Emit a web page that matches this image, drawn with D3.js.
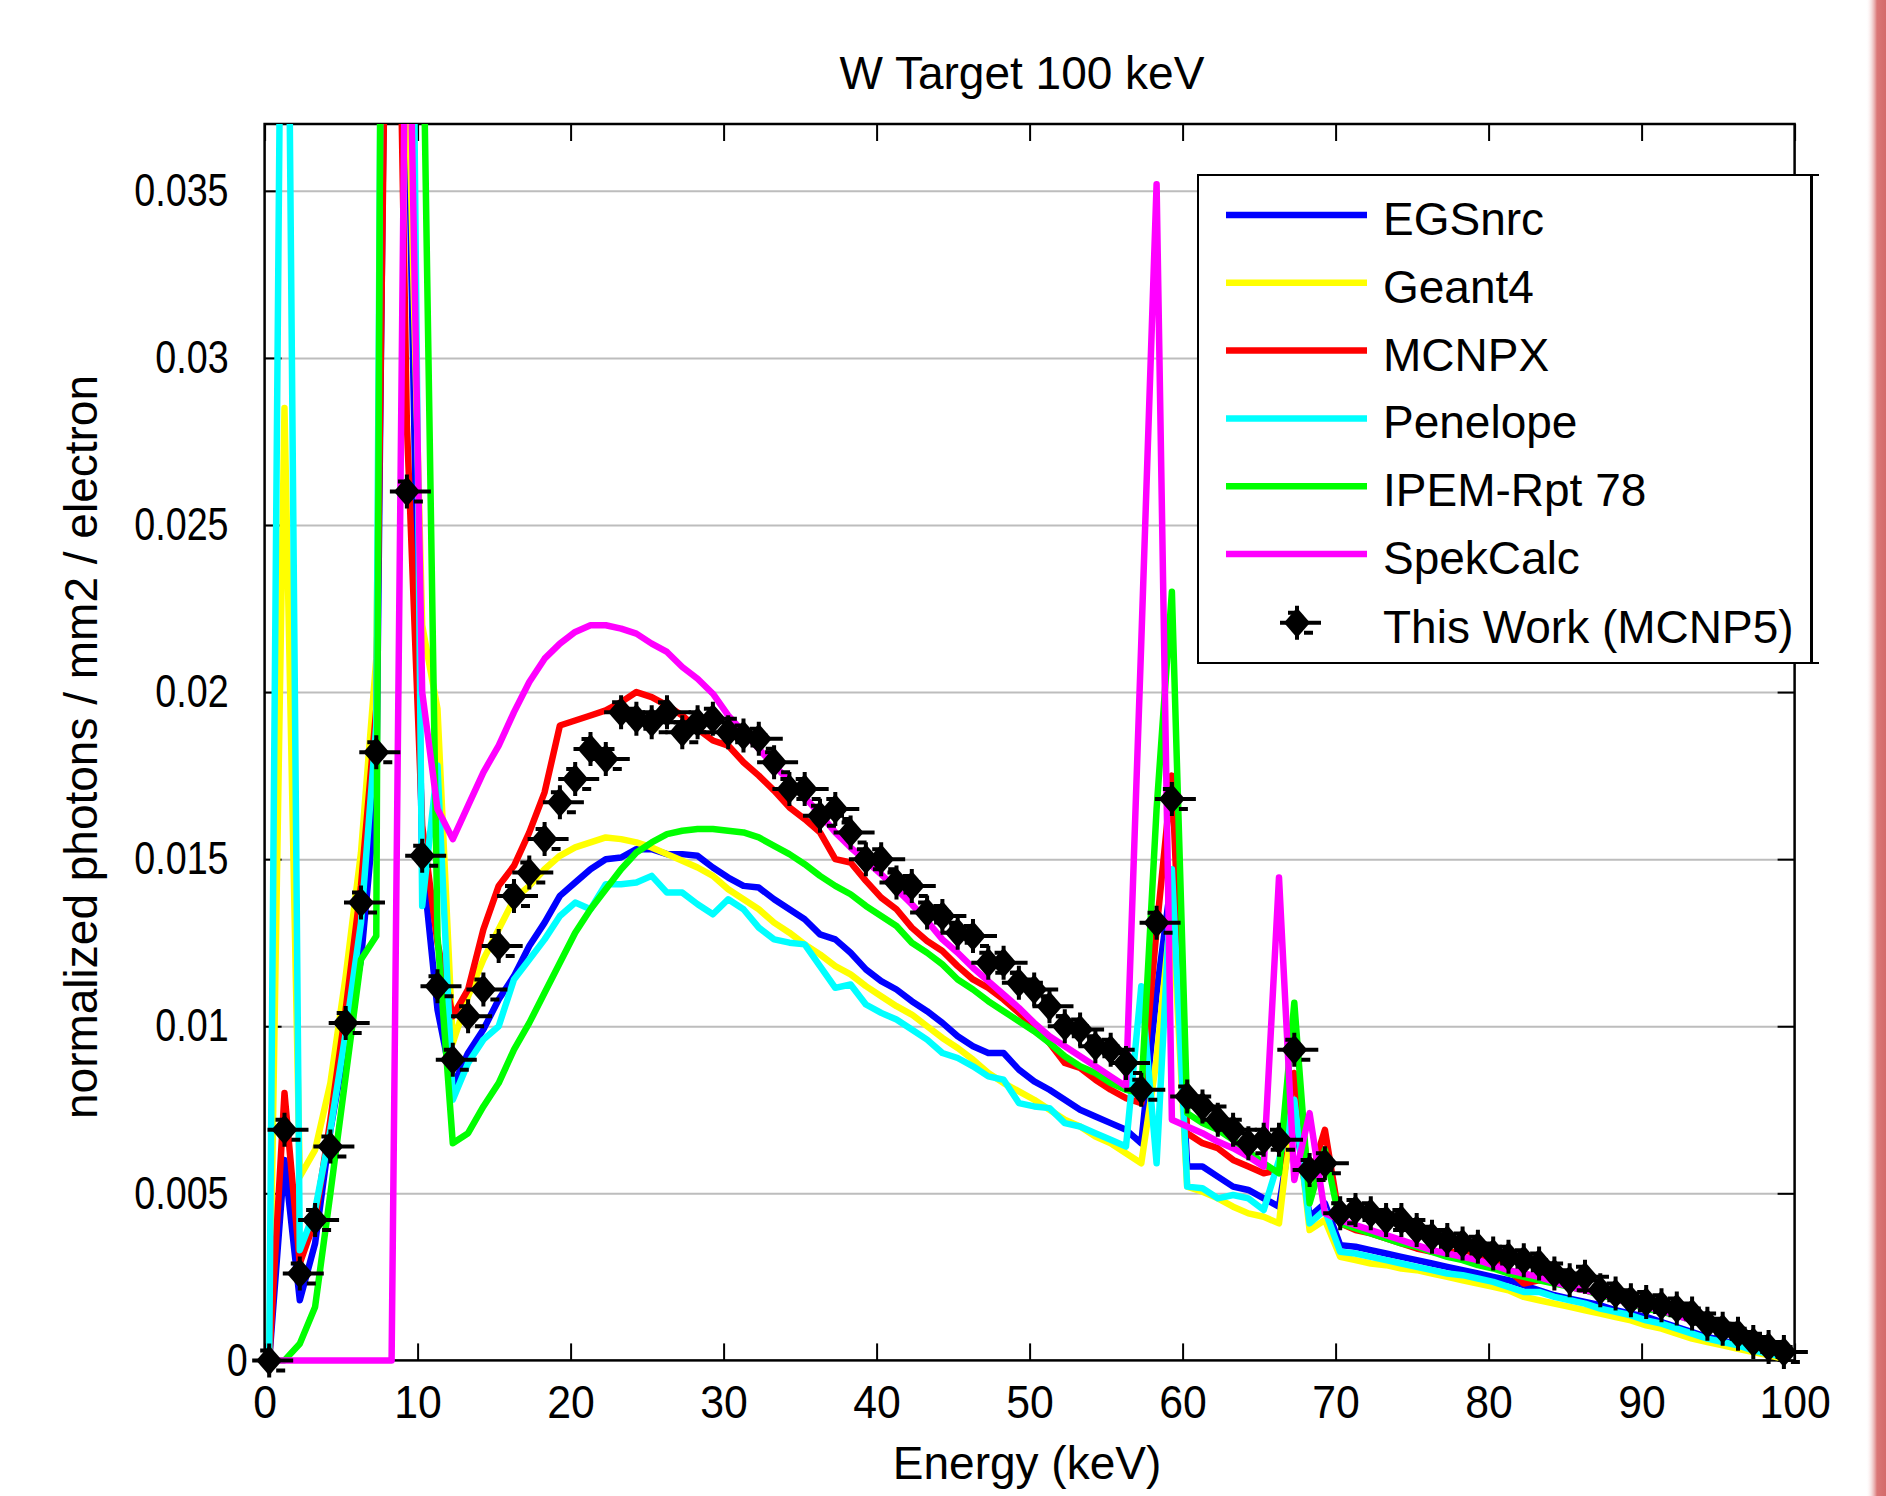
<!DOCTYPE html>
<html>
<head>
<meta charset="utf-8">
<script src="https://cdn.jsdelivr.net/npm/d3@7"></script>
<style>
  body { margin: 0; background: #fff; }
  text { font-family: "Liberation Sans", Arial, sans-serif; fill: #000; }
</style>
</head>
<body>
<div id="chart"></div>
<script>
// photon energy of each bin (keV)
const energies = [
  0.3, 1.3, 2.3, 3.3, 4.3, 5.3, 6.3, 7.3, 8.3, 9.3,
  10.3, 11.3, 12.3, 13.3, 14.3, 15.3, 16.3, 17.3, 18.3, 19.3,
  20.3, 21.3, 22.3, 23.3, 24.3, 25.3, 26.3, 27.3, 28.3, 29.3,
  30.3, 31.3, 32.3, 33.3, 34.3, 35.3, 36.3, 37.3, 38.3, 39.3,
  40.3, 41.3, 42.3, 43.3, 44.3, 45.3, 46.3, 47.3, 48.3, 49.3,
  50.3, 51.3, 52.3, 53.3, 54.3, 55.3, 56.3, 57.3, 58.3, 59.3,
  60.3, 61.3, 62.3, 63.3, 64.3, 65.3, 66.3, 67.3, 68.3, 69.3,
  70.3, 71.3, 72.3, 73.3, 74.3, 75.3, 76.3, 77.3, 78.3, 79.3,
  80.3, 81.3, 82.3, 83.3, 84.3, 85.3, 86.3, 87.3, 88.3, 89.3,
  90.3, 91.3, 92.3, 93.3, 94.3, 95.3, 96.3, 97.3, 98.3, 99.3]

// values above 0.037 are off the top of the plot, guessed
const egsnrc = [
  0, 0.0060, 0.0018, 0.0035, 0.0069, 0.0095, 0.0120, 0.0170, 0.0600, 0.0400,
  0.0150, 0.0105, 0.0082, 0.0092, 0.0099, 0.0108, 0.0115, 0.0124, 0.0131, 0.0139,
  0.0143, 0.0147, 0.0150, 0.01505, 0.0153, 0.0153, 0.01515, 0.01515, 0.0151, 0.01475,
  0.01445, 0.0142, 0.01415, 0.0138, 0.0135, 0.0132, 0.01275, 0.0126, 0.0122, 0.0117,
  0.01135, 0.0111, 0.01075, 0.01045, 0.0101, 0.0097, 0.0094, 0.0092, 0.0092, 0.0087,
  0.00835, 0.0081, 0.0078, 0.0075, 0.0073, 0.0071, 0.0069, 0.0065, 0.0110, 0.0145,
  0.0058, 0.0058, 0.0055, 0.0052, 0.0051, 0.00485, 0.0046, 0.0075, 0.0043, 0.0047,
  0.00345, 0.0034, 0.0033, 0.0032, 0.0031, 0.0030, 0.0029, 0.0028, 0.0027, 0.0026,
  0.0025, 0.0024, 0.00225, 0.0021, 0.00195, 0.00185, 0.00175, 0.00165, 0.0015, 0.0014,
  0.0013, 0.00115, 0.0010, 0.00085, 0.0007, 0.0006, 0.00045, 0.00035, 0.0002, 0.0001]

const geant4 = [
  0, 0.0285, 0.0055, 0.0063, 0.0083, 0.0115, 0.0152, 0.0210, 0.0600, 0.0400,
  0.0220, 0.0195, 0.0095, 0.0109, 0.0120, 0.0129, 0.0138, 0.0142, 0.0147, 0.0151,
  0.01535, 0.0155, 0.01565, 0.0156, 0.0155, 0.01535, 0.01515, 0.01495, 0.01475, 0.0145,
  0.0141, 0.0138, 0.0135, 0.0131, 0.0128, 0.01245, 0.01215, 0.0118, 0.01155, 0.0112,
  0.0109, 0.0106, 0.01035, 0.0100, 0.00965, 0.00935, 0.0090, 0.0086, 0.0083, 0.00805,
  0.0078, 0.0075, 0.0072, 0.0070, 0.0067, 0.0065, 0.0062, 0.0059, 0.0090, 0.0137,
  0.0052, 0.00505, 0.00485, 0.0046, 0.0044, 0.0043, 0.0041, 0.0080, 0.0039, 0.0042,
  0.0031, 0.0030, 0.0029, 0.00285, 0.00275, 0.0027, 0.0026, 0.0025, 0.0024, 0.0023,
  0.0022, 0.0021, 0.0019, 0.0018, 0.0017, 0.0016, 0.0015, 0.0014, 0.0013, 0.0012,
  0.00105, 0.00095, 0.0008, 0.00065, 0.00055, 0.00045, 0.00035, 0.00025, 0.00015, 0.00005]

const mcnpx = [
  0, 0.0080, 0.0029, 0.0042, 0.0072, 0.0105, 0.0142, 0.0195, 0.0550, 0.0280,
  0.0160, 0.0125, 0.0103, 0.0111, 0.0129, 0.0142, 0.0148, 0.0158, 0.0170, 0.0190,
  0.01915, 0.0193, 0.01945, 0.0197, 0.0200, 0.01985, 0.0196, 0.0193, 0.0189, 0.01855,
  0.0184, 0.0179, 0.0175, 0.01705, 0.01655, 0.0162, 0.0158, 0.0150, 0.0149, 0.01435,
  0.01385, 0.0135, 0.01295, 0.01255, 0.01225, 0.0118, 0.0114, 0.01115, 0.0108, 0.0104,
  0.0100, 0.0095, 0.0089, 0.00875, 0.0084, 0.0081, 0.00785, 0.0077, 0.0129, 0.0175,
  0.0068, 0.0065, 0.00635, 0.0060, 0.0058, 0.0056, 0.0057, 0.0086, 0.0054, 0.0069,
  0.0041, 0.0039, 0.0038, 0.00365, 0.0035, 0.00335, 0.00325, 0.0032, 0.0033, 0.0032,
  0.0030, 0.0027, 0.0023, 0.0024, 0.00235, 0.0022, 0.0021, 0.0020, 0.00185, 0.0017,
  0.0016, 0.0015, 0.0014, 0.00125, 0.0011, 0.00095, 0.00075, 0.00055, 0.00035, 0.0002]

const penelope = [
  0, 0.0550, 0.0033, 0.0045, 0.0069, 0.0098, 0.0131, 0.0190, 0.0900, 0.0600,
  0.0136, 0.0178, 0.0078, 0.0089, 0.0096, 0.0100, 0.0114, 0.0120, 0.0126, 0.0133,
  0.0137, 0.0135, 0.01425, 0.01425, 0.0143, 0.0145, 0.0140, 0.0140, 0.01365, 0.01335,
  0.0138, 0.0135, 0.01295, 0.0126, 0.0125, 0.01245, 0.0118, 0.01115, 0.01125, 0.01065,
  0.0104, 0.0102, 0.0099, 0.0096, 0.0092, 0.00905, 0.0088, 0.0085, 0.0084, 0.0077,
  0.0076, 0.00755, 0.0071, 0.0070, 0.0068, 0.0066, 0.0064, 0.0112, 0.0059, 0.0147,
  0.0052, 0.00515, 0.00485, 0.00495, 0.00485, 0.0045, 0.0060, 0.0078, 0.0041, 0.0045,
  0.00325, 0.0032, 0.0031, 0.0030, 0.0029, 0.0028, 0.0027, 0.0026, 0.00255, 0.00245,
  0.00235, 0.0022, 0.00205, 0.00205, 0.0019, 0.0018, 0.0017, 0.00155, 0.00145, 0.00135,
  0.0012, 0.0011, 0.00095, 0.0008, 0.00065, 0.00055, 0.00045, 0.0003, 0.0002, 0.0001]

const ipem78 = [
  0, 0, 0.0005, 0.0016, 0.0050, 0.0085, 0.0120, 0.0127, 0.1100, 0.0900,
  0.0420, 0.0127, 0.0065, 0.0068, 0.0076, 0.0083, 0.0093, 0.0101, 0.0110, 0.0119,
  0.0128, 0.0135, 0.0141, 0.0147, 0.0152, 0.0155, 0.01575, 0.01585, 0.0159, 0.0159,
  0.01585, 0.0158, 0.01565, 0.0154, 0.01515, 0.01485, 0.0145, 0.0142, 0.01395, 0.0136,
  0.0133, 0.0130, 0.0125, 0.0122, 0.01185, 0.0114, 0.0111, 0.01075, 0.01045, 0.01015,
  0.00985, 0.0095, 0.0091, 0.0088, 0.0086, 0.0083, 0.0081, 0.0080, 0.0165, 0.0230,
  0.0074, 0.0071, 0.0069, 0.0066, 0.00625, 0.0059, 0.0056, 0.0107, 0.0047, 0.0063,
  0.0041, 0.00395, 0.0038, 0.00365, 0.0035, 0.0034, 0.00325, 0.0031, 0.0030, 0.00285,
  0.00275, 0.0026, 0.0025, 0.0024, 0.0023, 0.0022, 0.0021, 0.00195, 0.00185, 0.0017,
  0.00155, 0.00145, 0.00135, 0.0012, 0.00105, 0.0009, 0.00075, 0.00055, 0.0004, 0.0002]

const spekcalc = [
  0, 0, 0, 0, 0, 0, 0, 0, 0, 0.0450,
  0.0200, 0.0165, 0.0156, 0.0166, 0.0176, 0.0184, 0.0194, 0.0203, 0.0210, 0.02145,
  0.0218, 0.0220, 0.0220, 0.0219, 0.02175, 0.02145, 0.0212, 0.02075, 0.0204, 0.01995,
  0.0193, 0.0188, 0.0183, 0.0178, 0.01735, 0.01685, 0.01635, 0.0158, 0.01535, 0.01495,
  0.01455, 0.0141, 0.01365, 0.01315, 0.0126, 0.0122, 0.01175, 0.01135, 0.01095, 0.01055,
  0.0101, 0.0097, 0.0094, 0.0091, 0.0088, 0.0085, 0.0082, 0.0215, 0.0352, 0.0072,
  0.0070, 0.0068, 0.00655, 0.00635, 0.0061, 0.0058, 0.01445, 0.0054, 0.0074, 0.0044,
  0.0042, 0.00405, 0.0039, 0.00375, 0.0036, 0.00345, 0.0033, 0.0032, 0.0031, 0.0030,
  0.00285, 0.0027, 0.0026, 0.0025, 0.00235, 0.0022, 0.0021, 0.0020, 0.00185, 0.0017,
  0.0016, 0.0015, 0.00135, 0.0012, 0.00105, 0.0009, 0.00075, 0.00055, 0.0004, 0.0002]

// This Work (MCNP5); null = point off the top of the plot
const thisWork = [
  0, 0.0069, 0.0026, 0.0042, 0.0064, 0.0101, 0.0137, 0.0182, null, 0.0260,
  0.0151, 0.0112, 0.0090, 0.0103, 0.0111, 0.0124, 0.0139, 0.0146, 0.0156, 0.0167,
  0.0174, 0.0183, 0.0180, 0.0194, 0.0192, 0.0191, 0.0194, 0.0188, 0.0191, 0.0192,
  0.0188, 0.0187, 0.0186, 0.0179, 0.0171, 0.0171, 0.0163, 0.0165, 0.0158, 0.0150,
  0.0150, 0.0143, 0.0142, 0.0134, 0.0133, 0.0128, 0.0127, 0.0119, 0.0119, 0.0113,
  0.0111, 0.0106, 0.0100, 0.0099, 0.0094, 0.0093, 0.0089, 0.0081, 0.0131, 0.0168,
  0.0079, 0.0076, 0.0072, 0.0069, 0.0065, 0.0066, 0.0066, 0.0093, 0.0057, 0.0059,
  0.0044, 0.0045, 0.0044, 0.0042, 0.0042, 0.0039, 0.0037, 0.0036, 0.0035, 0.0034,
  0.0032, 0.0031, 0.0030, 0.0029, 0.0026, 0.0024, 0.0025, 0.0021, 0.0020, 0.0018,
  0.00175, 0.00165, 0.00155, 0.0014, 0.0011, 0.00095, 0.0008, 0.00055, 0.0004, 0.00025]

const seriesNames = ["EGSnrc", "Geant4", "MCNPX", "Penelope", "IPEM-Rpt 78", "SpekCalc"]
const seriesValues = [egsnrc, geant4, mcnpx, penelope, ipem78, spekcalc]
const seriesColors = ["#0000ff", "#ffff00", "#ff0000", "#00ffff", "#00ff00", "#ff00ff"]
const markerName = "This Work (MCNP5)"

const xTicks = [0, 10, 20, 30, 40, 50, 60, 70, 80, 90, 100]
const yTicks = [0, 0.005, 0.01, 0.015, 0.02, 0.025, 0.03, 0.035]
const X_DOMAIN = [0, 100]
const Y_DOMAIN = [0, 0.037]

const WIDTH = 1886
const HEIGHT = 1496
const PLOT = { LEFT: 264.6, RIGHT: 1794.6, TOP: 124, BOTTOM: 1360.4 }
const TICK_LEN = 17
const FONT_SIZE = 46
const LINE_WIDTH = 6.5
const Y_LABEL_SQUEEZE = 0.82 // y tick labels are drawn narrow in the original
const X_LABEL_SQUEEZE = 0.93
const LEGEND = { X: 1198, Y: 175, W: 613, H: 488, ROW0: 215, ROW_STEP: 67.8 }

class SpectrumChart {
  constructor(element) {
    this.initSVG(element)
    this.setXY()
    this.drawGrid()
    this.drawAxes()
    this.drawLines()
    this.drawMarkers()
    this.drawLabels()
    this.drawLegend()
    this.drawEdge()
  }

  initSVG(element) {
    this.svg = d3.select(element)
                 .append("svg")
                 .attr("width", WIDTH)
                 .attr("height", HEIGHT)
                 .style("display", "block")

    this.svg.append("rect")
        .attr("width", WIDTH)
        .attr("height", HEIGHT)
        .attr("fill", "#fff")

    this.svg.append("clipPath")
        .attr("id", "plot-clip")
        .append("rect")
        .attr("x", PLOT.LEFT - 6)
        .attr("y", PLOT.TOP)
        .attr("width", PLOT.RIGHT - PLOT.LEFT + 12)
        .attr("height", PLOT.BOTTOM - PLOT.TOP + 6)
  }

  setXY() {
    this.x = d3.scaleLinear()
               .domain(X_DOMAIN)
               .range([PLOT.LEFT, PLOT.RIGHT])

    this.y = d3.scaleLinear()
               .domain(Y_DOMAIN)
               .range([PLOT.BOTTOM, PLOT.TOP])
  }

  drawGrid() {
    const grid = this.svg.append("g")
                     .attr("transform", `translate(${PLOT.LEFT},0)`)
                     .call(d3.axisLeft(this.y)
                             .tickValues(yTicks.filter(d => d > 0))
                             .tickSize(-(PLOT.RIGHT - PLOT.LEFT))
                             .tickFormat(""))
    grid.select(".domain").remove()
    grid.selectAll("line")
        .attr("stroke", "#bdbdbd")
        .attr("stroke-width", 2)
  }

  drawAxes() {
    const fmt = d3.format(".3~f")

    const bottom = this.svg.append("g")
                       .attr("transform", `translate(0,${PLOT.BOTTOM})`)
                       .call(d3.axisBottom(this.x)
                               .tickValues(xTicks)
                               .tickSize(-TICK_LEN)
                               .tickSizeOuter(0)
                               .tickPadding(25))
    const left = this.svg.append("g")
                     .attr("transform", `translate(${PLOT.LEFT},0)`)
                     .call(d3.axisLeft(this.y)
                             .tickValues(yTicks)
                             .tickSize(-TICK_LEN)
                             .tickSizeOuter(0)
                             .tickPadding(36)
                             .tickFormat(fmt))
    const top = this.svg.append("g")
                    .attr("transform", `translate(0,${PLOT.TOP})`)
                    .call(d3.axisTop(this.x)
                            .tickValues(xTicks)
                            .tickSize(-TICK_LEN)
                            .tickSizeOuter(0)
                            .tickFormat(""))
    const right = this.svg.append("g")
                      .attr("transform", `translate(${PLOT.RIGHT},0)`)
                      .call(d3.axisRight(this.y)
                              .tickValues(yTicks)
                              .tickSize(-TICK_LEN)
                              .tickSizeOuter(0)
                              .tickFormat(""))

    for (const g of [bottom, left, top, right]) {
      g.select(".domain").remove()
      g.selectAll("line").attr("stroke", "#000").attr("stroke-width", 2)
      g.selectAll("text")
       .attr("font-size", FONT_SIZE)
       .attr("font-family", "\"Liberation Sans\", Arial, sans-serif")
    }

    bottom.selectAll("text")
          .attr("transform", `scale(${X_LABEL_SQUEEZE},1)`)

    // squeeze y labels but keep their right edge where it was;
    // the lone "0" sits further right in the original
    left.selectAll(".tick text")
        .attr("transform", `scale(${Y_LABEL_SQUEEZE},1)`)
        .attr("x", d => (d === 0 ? -17 : -36) / Y_LABEL_SQUEEZE)

    this.svg.append("rect")
        .attr("x", PLOT.LEFT)
        .attr("y", PLOT.TOP)
        .attr("width", PLOT.RIGHT - PLOT.LEFT)
        .attr("height", PLOT.BOTTOM - PLOT.TOP)
        .attr("fill", "none")
        .attr("stroke", "#000")
        .attr("stroke-width", 2.5)
  }

  drawLines() {
    const lines = this.svg.append("g")
                      .attr("clip-path", "url(#plot-clip)")

    const line = d3.line()
                   .x((d, i) => this.x(energies[i]))
                   .y(d => this.y(d))

    lines.selectAll("path")
         .data(seriesValues)
         .enter()
         .append("path")
         .attr("d", d => line(d))
         .attr("fill", "none")
         .attr("stroke", (d, i) => seriesColors[i])
         .attr("stroke-width", LINE_WIDTH)
         .attr("stroke-linejoin", "round")
         .attr("stroke-linecap", "round")
  }

  drawMarkers() {
    const points = thisWork
      .map((v, i) => ({ e: energies[i], v: v }))
      .filter(d => d.v !== null && d.v <= Y_DOMAIN[1])

    const g = this.svg.append("g")
    points.forEach(d => drawMarker(g, this.x(d.e), this.y(d.v)))
  }

  drawLabels() {
    this.svg.append("text")
        .attr("x", 1022)
        .attr("y", 89)
        .attr("text-anchor", "middle")
        .attr("font-size", FONT_SIZE)
        .text("W Target 100 keV")

    this.svg.append("text")
        .attr("x", 1027)
        .attr("y", 1479)
        .attr("text-anchor", "middle")
        .attr("font-size", FONT_SIZE)
        .text("Energy (keV)")

    this.svg.append("text")
        .attr("transform", "translate(97,747) rotate(-90)")
        .attr("text-anchor", "middle")
        .attr("font-size", FONT_SIZE)
        .text("normalized photons / mm2 / electron")
  }

  drawLegend() {
    const lg = this.svg.append("g")

    lg.append("rect")
      .attr("x", LEGEND.X)
      .attr("y", LEGEND.Y)
      .attr("width", LEGEND.W)
      .attr("height", LEGEND.H)
      .attr("fill", "#fff")
      .attr("stroke", "#000")
      .attr("stroke-width", 2)

    // tick bracket on the right side of the legend box
    const rx = LEGEND.X + LEGEND.W + 1
    lg.append("path")
      .attr("d", `M${rx + 7},${LEGEND.Y} H${rx} V${LEGEND.Y + LEGEND.H} H${rx + 7}`)
      .attr("fill", "none")
      .attr("stroke", "#000")
      .attr("stroke-width", 2)

    seriesNames.forEach((name, i) => {
      const yy = LEGEND.ROW0 + i * LEGEND.ROW_STEP
      lg.append("line")
        .attr("x1", 1226)
        .attr("x2", 1367)
        .attr("y1", yy)
        .attr("y2", yy)
        .attr("stroke", seriesColors[i])
        .attr("stroke-width", LINE_WIDTH)
      lg.append("text")
        .attr("x", 1383)
        .attr("y", yy + 20)
        .attr("font-size", FONT_SIZE)
        .text(name)
    })

    const ym = LEGEND.ROW0 + seriesNames.length * LEGEND.ROW_STEP + 1
    drawMarker(lg, 1297, ym)
    lg.append("text")
      .attr("x", 1383)
      .attr("y", ym + 20)
      .attr("font-size", FONT_SIZE)
      .text(markerName)
  }

  drawEdge() {
    const grad = this.svg.append("defs")
                     .append("linearGradient")
                     .attr("id", "edge-grad")
    grad.append("stop").attr("offset", "0%").attr("stop-color", "#fff").attr("stop-opacity", 0)
    grad.append("stop").attr("offset", "55%").attr("stop-color", "#da7676")
    grad.append("stop").attr("offset", "100%").attr("stop-color", "#d46a6a")

    this.svg.append("rect")
        .attr("x", 1866)
        .attr("y", 0)
        .attr("width", 20)
        .attr("height", HEIGHT)
        .attr("fill", "url(#edge-grad)")
  }
}

// filled diamond with short error bars, as in the MATLAB errorbar plot
function drawMarker(parent, cx, cy) {
  const m = parent.append("g")
                  .attr("transform", `translate(${cx},${cy})`)
  m.append("path")
   .attr("d", "M0,-15 L13,0 L0,15 L-13,0 Z")
   .attr("fill", "#000")
  m.append("path")
   .attr("d", "M-17,0 H24 M0,-17 V17 M7,10 H16 M-9,-10 H-2")
   .attr("stroke", "#000")
   .attr("stroke-width", 4)
   .attr("fill", "none")
}

new SpectrumChart("#chart")
</script>
</body>
</html>
